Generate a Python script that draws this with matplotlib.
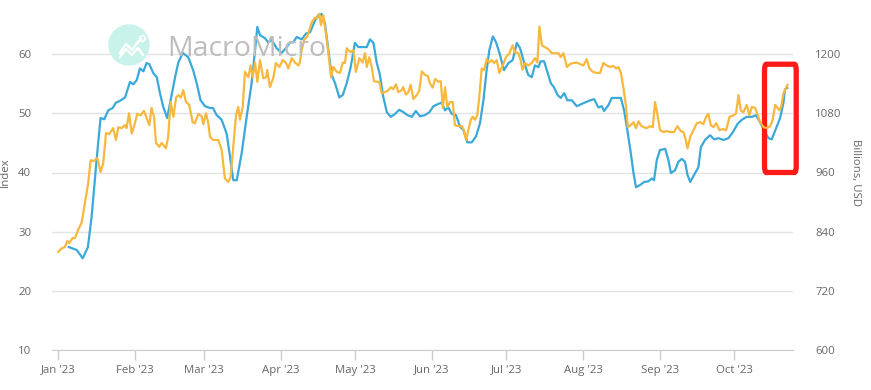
import pandas as pd
import matplotlib
matplotlib.use("Agg")
import matplotlib.pyplot as plt
import matplotlib.dates as mdates
from matplotlib.patches import FancyBboxPatch, Ellipse
from matplotlib.lines import Line2D

plt.rcParams['font.family'] = ['Open Sans', 'DejaVu Sans']

start = pd.Timestamp('2023-01-01')

# blue series: index (left axis), days after Jan 1 2023
index_days = [
    4.4, 7.6, 10.0, 12.1, 13.6, 15.6, 17.2, 18.7, 20.3, 22.1,
    23.4, 25.0, 27.1, 29.1, 30.4, 31.8, 33.1, 34.5, 35.8, 36.9,
    38.5, 39.9, 41.2, 42.5, 44.1, 45.5, 47.3, 48.6, 50.4, 52.6,
    54.6, 56.0, 57.6, 59.4, 61.4, 62.6, 64.1, 66.1, 68.1, 69.5,
    70.8, 72.2, 74.2, 76.2, 78.2, 79.6, 80.5, 81.6, 83.6, 84.9,
    86.3, 88.3, 90.3, 92.4, 93.7, 95.0, 96.4, 98.4, 100.2, 101.8,
    103.8, 105.1, 106.5, 107.8, 109.2, 110.5, 111.9, 113.6, 115.0, 116.6,
    118.2, 119.9, 121.3, 124.7, 126.0, 127.4, 128.7, 130.0, 131.4, 132.8,
    134.4, 136.1, 137.8, 139.5, 141.1, 142.9, 144.5, 146.2, 148.2, 150.0,
    151.6, 153.6, 155.0, 156.3, 157.6, 159.0, 160.7, 162.4, 163.7, 165.3,
    167.1, 168.8, 170.4, 171.8, 173.1, 174.2, 175.6, 176.9, 178.2, 180.1,
    181.9, 183.6, 185.3, 186.6, 188.2, 189.9, 191.3, 192.6, 194.0, 194.9,
    196.3, 197.6, 199.0, 200.3, 201.7, 203.0, 204.4, 205.7, 207.5, 209.5,
    211.5, 213.2, 214.9, 216.5, 218.2, 219.6, 220.5, 222.3, 223.6, 225.6,
    227.3, 228.6, 229.9, 231.3, 232.4, 233.4, 235.1, 236.7, 238.4, 239.8,
    240.7, 241.8, 243.1, 245.2, 246.5, 247.5, 249.2, 250.5, 251.9, 253.2,
    254.2, 255.3, 256.9, 258.6, 259.6, 261.3, 263.3, 265.0, 266.7, 268.7,
    270.7, 272.5, 274.4, 276.1, 278.1, 280.2, 281.9, 283.5, 285.5, 286.9,
    288.2, 290.0, 291.6, 292.9, 293.6, 294.5]
index_vals = [
    27.4, 26.9, 25.5, 27.4, 32.5, 42.1, 49.2, 49.0, 50.5, 50.9,
    51.8, 52.1, 52.7, 55.3, 54.9, 55.6, 57.6, 57.1, 58.5, 58.3,
    56.8, 56.1, 53.4, 51.1, 49.2, 52.2, 56.1, 58.6, 60.2, 59.5,
    57.3, 55.1, 52.2, 51.2, 50.9, 50.9, 49.7, 48.9, 46.6, 42.6,
    38.7, 38.7, 43.3, 49.4, 55.1, 60.7, 64.6, 63.2, 62.7, 62.0,
    62.4, 61.0, 60.2, 61.2, 62.0, 62.0, 62.9, 62.5, 63.5, 63.7,
    65.7, 66.6, 66.8, 65.2, 60.7, 56.5, 55.1, 52.7, 53.1, 55.1,
    57.8, 61.9, 61.2, 61.2, 62.5, 61.9, 58.6, 56.5, 52.7, 50.2,
    49.4, 49.9, 50.6, 50.2, 49.7, 49.4, 50.4, 49.5, 49.7, 50.2,
    51.2, 51.6, 51.8, 50.5, 51.0, 49.9, 49.7, 47.7, 47.2, 45.1,
    45.1, 46.1, 48.3, 52.2, 57.3, 60.7, 63.0, 62.0, 60.3, 57.3,
    58.5, 59.0, 61.9, 61.0, 58.6, 56.5, 56.1, 58.1, 57.8, 58.8,
    58.8, 57.0, 55.1, 54.4, 53.1, 52.6, 53.4, 52.2, 52.2, 51.2,
    51.6, 51.9, 52.2, 52.4, 51.0, 51.2, 50.4, 51.4, 52.6, 52.6,
    52.6, 50.5, 47.2, 43.3, 39.9, 37.5, 37.9, 38.4, 38.5, 39.0,
    38.7, 42.1, 43.8, 44.0, 42.1, 39.9, 40.4, 41.8, 42.3, 41.8,
    39.6, 38.4, 39.6, 40.9, 44.3, 45.5, 46.3, 45.6, 45.8, 45.5,
    45.8, 46.8, 48.2, 48.9, 49.4, 49.4, 49.7, 48.5, 46.8, 45.8,
    45.6, 47.5, 49.2, 51.7, 54.1, 54.3]

# orange series: billions USD (right axis)
usd_days = [
    0.1, 1.5, 2.8, 3.8, 4.6, 5.9, 6.9, 8.2, 9.6, 10.9,
    12.2, 13.2, 14.3, 15.9, 17.2, 18.3, 19.4, 20.7, 22.3, 23.4,
    24.4, 25.7, 27.1, 27.7, 28.7, 29.8, 31.1, 32.0, 33.4, 34.7,
    36.1, 36.9, 37.8, 38.8, 39.6, 40.9, 41.9, 43.6, 44.5, 45.5,
    46.6, 47.7, 48.6, 49.6, 50.6, 51.7, 53.0, 54.4, 55.3, 56.7,
    58.0, 58.7, 59.8, 60.7, 61.4, 62.7, 64.7, 66.1, 67.4, 68.8,
    69.7, 70.8, 71.9, 72.8, 73.5, 74.6, 75.5, 76.9, 77.8, 78.6,
    79.6, 80.5, 81.6, 82.9, 84.0, 84.5, 85.6, 87.0, 88.0, 89.4,
    90.8, 92.1, 93.0, 94.4, 95.7, 97.1, 97.7, 98.4, 99.4, 100.7,
    102.5, 103.8, 104.7, 105.5, 106.2, 107.1, 108.2, 109.2, 110.3, 111.2,
    112.6, 113.9, 115.0, 115.9, 116.6, 118.2, 119.3, 120.3, 121.7, 123.0,
    124.0, 124.7, 125.7, 126.7, 127.6, 128.7, 129.8, 130.7, 132.1, 133.4,
    134.4, 135.4, 136.5, 137.4, 138.8, 139.4, 140.5, 141.5, 142.4, 143.5,
    144.9, 145.9, 146.9, 148.2, 149.3, 150.2, 151.3, 152.3, 153.6, 154.6,
    155.4, 156.3, 157.2, 158.3, 159.4, 160.3, 161.7, 163.0, 163.9, 164.8,
    165.7, 166.7, 167.5, 168.4, 169.3, 170.1, 171.1, 172.1, 173.1, 174.2,
    175.1, 176.1, 177.2, 178.2, 179.6, 180.9, 182.3, 183.6, 184.5, 185.9,
    186.8, 187.6, 188.6, 189.9, 191.3, 192.6, 193.6, 194.4, 195.4, 196.7,
    198.0, 199.4, 200.7, 202.1, 203.0, 204.1, 205.5, 206.8, 208.1, 209.5,
    210.8, 212.2, 213.5, 214.6, 216.0, 217.6, 218.9, 220.2, 221.6, 222.9,
    224.3, 225.4, 226.3, 227.3, 228.3, 229.4, 230.1, 231.3, 232.4, 233.4,
    234.4, 235.3, 236.4, 237.8, 239.1, 240.2, 241.1, 242.0, 243.1, 244.5,
    245.8, 247.2, 248.8, 250.1, 251.5, 252.6, 253.5, 254.2, 255.3, 256.6,
    258.0, 259.3, 260.6, 261.7, 262.6, 263.6, 264.7, 265.8, 267.1, 268.5,
    269.8, 271.2, 272.8, 273.8, 274.8, 275.7, 276.8, 278.1, 279.2, 280.2,
    281.5, 282.4, 283.5, 284.9, 286.2, 287.6, 288.6, 289.6, 290.5, 291.3,
    292.0, 293.0, 294.1, 294.6]
usd_vals = [
    799, 806, 809, 821, 817, 827, 827, 844, 859, 898,
    938, 985, 983, 989, 961, 979, 1040, 1038, 1050, 1026,
    1052, 1050, 1056, 1050, 1080, 1039, 1060, 1079, 1076, 1085,
    1067, 1056, 1091, 1073, 1020, 1012, 1020, 1009, 1032, 1103,
    1073, 1112, 1117, 1112, 1127, 1103, 1097, 1062, 1060, 1079,
    1074, 1058, 1080, 1060, 1032, 1026, 1026, 1006, 948, 941,
    950, 1012, 1076, 1093, 1067, 1093, 1164, 1153, 1177, 1153,
    1183, 1144, 1188, 1151, 1153, 1168, 1133, 1153, 1182, 1174,
    1188, 1182, 1171, 1192, 1183, 1177, 1183, 1208, 1229, 1236,
    1265, 1274, 1273, 1282, 1259, 1279, 1242, 1202, 1153, 1174,
    1164, 1162, 1183, 1182, 1212, 1204, 1208, 1164, 1192, 1183,
    1202, 1174, 1194, 1174, 1145, 1144, 1144, 1121, 1123, 1127,
    1133, 1129, 1139, 1123, 1127, 1133, 1118, 1123, 1138, 1109,
    1117, 1126, 1165, 1158, 1156, 1141, 1132, 1150, 1144, 1145,
    1091, 1133, 1093, 1103, 1103, 1056, 1054, 1054, 1046, 1026,
    1046, 1067, 1073, 1067, 1076, 1112, 1171, 1168, 1190, 1183,
    1188, 1182, 1188, 1162, 1177, 1194, 1202, 1218, 1204, 1202,
    1188, 1168, 1182, 1177, 1182, 1192, 1183, 1256, 1218, 1214,
    1210, 1202, 1202, 1202, 1194, 1202, 1174, 1180, 1182, 1183,
    1180, 1177, 1190, 1171, 1164, 1162, 1162, 1182, 1177, 1174,
    1176, 1171, 1174, 1162, 1133, 1093, 1052, 1056, 1062, 1050,
    1064, 1056, 1052, 1050, 1054, 1052, 1103, 1079, 1046, 1042,
    1044, 1042, 1042, 1054, 1044, 1042, 1026, 1009, 1032, 1046,
    1060, 1062, 1058, 1073, 1079, 1056, 1052, 1060, 1046, 1048,
    1046, 1073, 1076, 1080, 1117, 1086, 1082, 1097, 1076, 1093,
    1091, 1079, 1062, 1052, 1050, 1054, 1067, 1097, 1091, 1086,
    1093, 1121, 1133, 1138]

left_ticks = [10, 20, 30, 40, 50, 60]
right_ticks = [600, 720, 840, 960, 1080, 1200]

W, H = 871, 390
fig = plt.figure(figsize=(W / 100, H / 100), dpi=100)
# plot area in pixels: x 52..793, y -5 (value 70) .. 350 (value 10)
ax = fig.add_axes([52 / W, (H - 350) / H, (793 - 52) / W, 355 / H])
ax2 = ax.twinx()

idx_dates = start + pd.to_timedelta(index_days, unit='D')
usd_dates = start + pd.to_timedelta(usd_days, unit='D')

ax.plot(idx_dates, index_vals, color='#3aa9d9', lw=1.6, zorder=3, solid_joinstyle='round')
ax2.plot(usd_dates, usd_vals, color='#f7b83d', lw=1.6, zorder=3, solid_joinstyle='round')

ax.set_xlim(start - pd.Timedelta(days=2.4), start + pd.Timedelta(days=296.8))
ax.set_ylim(10, 70)
ax2.set_ylim(600, 1320)
ax.set_yticks(left_ticks)
ax2.set_yticks(right_ticks)

ax.grid(axis='y', color='#e3e3e3', lw=1)
ax.set_axisbelow(True)
for a in (ax, ax2):
    for s in ('top', 'left', 'right'):
        a.spines[s].set_visible(False)
    a.spines['bottom'].set_color('#cccccc')
ax2.spines['bottom'].set_visible(False)

ax.xaxis.set_major_locator(mdates.MonthLocator())
ax.xaxis.set_major_formatter(mdates.DateFormatter("%b '%y"))
ax.tick_params(axis='x', length=7.5, width=1, color='#cccccc', labelcolor='#666666',
               labelsize=8.2, pad=3)
ax.tick_params(axis='y', length=0, labelcolor='#666666', labelsize=8.2, pad=15)
ax2.tick_params(axis='y', length=0, labelcolor='#666666', labelsize=8.2, pad=16)

ax.set_ylabel('Index', color='#666666', fontsize=8.2)
ax.yaxis.set_label_coords(-0.055, 0.5)
ax2.set_ylabel('Billions, USD', color='#666666', fontsize=8.2, rotation=270,
               labelpad=14)

# watermark
fig.patches.append(Ellipse((129 / W, 1 - 45 / H), 40 / W, 40 / H, transform=fig.transFigure,
                           color='#c9f2ea', zorder=0.5))
icon = [(120, 53), (126, 44), (132, 50), (138, 42), (141, 39)]
fig.lines.append(Line2D([p[0] / W for p in icon], [1 - p[1] / H for p in icon],
                        transform=fig.transFigure, color='white', lw=1.8, zorder=0.6))
icon2 = [(120, 57), (126, 49), (132, 55), (138, 48), (143, 55)]
fig.lines.append(Line2D([p[0] / W for p in icon2], [1 - p[1] / H for p in icon2],
                        transform=fig.transFigure, color='white', lw=1.6, zorder=0.6))
fig.lines.append(Line2D([142 / W], [1 - 38 / H], transform=fig.transFigure, marker='o',
                        ms=4, mfc='none', mec='white', mew=1.2, zorder=0.6))
fig.text(167 / W, 1 - 56 / H, 'MacroMicro', fontsize=20.5, color='#bdbdbd',
         family='Open Sans', zorder=0.5)

# red highlight box around the latest readings
box = FancyBboxPatch((mdates.date2num(start + pd.Timedelta(days=285.3)), 40.0), 12.8, 18.3,
                     boxstyle='round,pad=0,rounding_size=0.8', fill=False,
                     ec='#ff1a1a', lw=3.8, clip_on=False, zorder=5,
                     mutation_aspect=1.4)
ax.add_patch(box)

fig.savefig('out.png', dpi=100)
